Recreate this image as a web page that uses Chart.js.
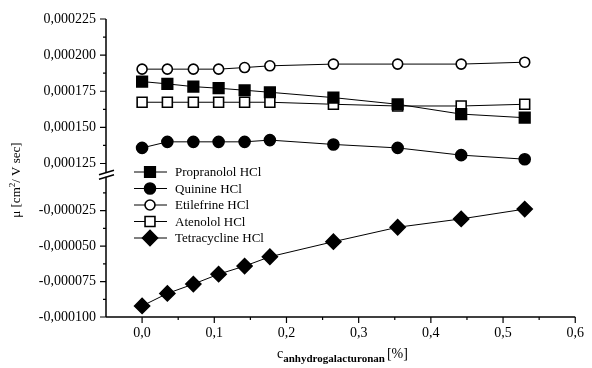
<!DOCTYPE html>
<html>
<head>
<meta charset="utf-8">
<script src="https://cdn.jsdelivr.net/npm/chart.js@4.4.0/dist/chart.umd.min.js"></script>
<style>
  html, body { margin: 0; padding: 0; background: #fff; }
</style>
</head>
<body>
<canvas id="myChart" width="592" height="368"></canvas>
<script>
// concentration of anhydrogalacturonan [%]
const concentrations = [0, 0.035, 0.071, 0.106, 0.142, 0.177, 0.265, 0.354, 0.442, 0.530];

// mobility values [cm2/V sec]
const propranolol = [0.0001817, 0.0001801, 0.0001782, 0.0001771, 0.0001757, 0.0001743, 0.0001706, 0.000166, 0.0001592, 0.0001567];
const quinine = [0.0001358, 0.00014, 0.00014, 0.00014, 0.00014, 0.0001412, 0.0001382, 0.0001358, 0.0001308, 0.000128];
const etilefrine = [0.0001903, 0.0001903, 0.0001903, 0.0001903, 0.0001914, 0.0001926, 0.0001938, 0.0001938, 0.0001938, 0.0001951];
const atenolol = [0.0001674, 0.0001674, 0.0001674, 0.0001674, 0.0001674, 0.0001674, 0.000166, 0.0001648, 0.0001648, 0.000166];
const tetracycline = [-0.0000922, -0.0000834, -0.0000768, -0.0000698, -0.0000641, -0.0000575, -0.0000469, -0.0000367, -0.0000308, -0.0000239];

const seriesNames = ['Propranolol HCl', 'Quinine HCl', 'Etilefrine HCl', 'Atenolol HCl', 'Tetracycline HCl'];

const xTicks = [0, 0.1, 0.2, 0.3, 0.4, 0.5, 0.6];
const yTicksTop = [0.000125, 0.00015, 0.000175, 0.0002, 0.000225];
const yTicksBottom = [-0.0001, -0.000075, -0.00005, -0.000025];

const serif = 'Liberation Serif';

function toPoints(values) {
    return concentrations.map((c, i) => ({ x: c, y: values[i] }));
}

function makeDataset(label, values, style, filled, radius, axis) {
    return {
        label: label,
        data: toPoints(values),
        yAxisID: axis,
        borderColor: '#000',
        borderWidth: 1,
        pointStyle: style,
        pointRadius: radius,
        pointHoverRadius: radius,
        pointBorderWidth: 1.6,
        pointBorderColor: '#000',
        pointBackgroundColor: filled ? '#000' : '#fff',
        tension: 0,
    };
}

const datasets = [
    makeDataset(seriesNames[0], propranolol, 'rect', true, 7.5, 'yTop'),
    makeDataset(seriesNames[1], quinine, 'circle', true, 5.5, 'yTop'),
    makeDataset(seriesNames[2], etilefrine, 'circle', false, 5, 'yTop'),
    makeDataset(seriesNames[3], atenolol, 'rect', false, 7, 'yTop'),
    makeDataset(seriesNames[4], tetracycline, 'rectRot', true, 7.5, 'yBottom'),
];

function formatY(v) {
    return v.toFixed(6).replace('.', ',');
}

// axis lines, break marks, ticks, legend and titles
const axisDecor = {
    id: 'axisDecor',
    afterDraw(chart) {
        const ctx = chart.ctx;
        const x = chart.scales.x;
        const yTop = chart.scales.yTop;
        const yBottom = chart.scales.yBottom;
        const left = chart.chartArea.left;
        const bottom = chart.chartArea.bottom;
        const breakY = yTop.bottom;

        ctx.save();
        ctx.strokeStyle = '#000';
        ctx.lineWidth = 1.5;

        // y axis with break
        ctx.beginPath();
        ctx.moveTo(left, yTop.top);
        ctx.lineTo(left, breakY - 2.5);
        ctx.moveTo(left, breakY + 1.5);
        ctx.lineTo(left, bottom);
        ctx.stroke();

        ctx.beginPath();
        ctx.moveTo(left - 7, breakY - 0.5);
        ctx.lineTo(left + 8, breakY - 5);
        ctx.moveTo(left - 7, breakY + 4);
        ctx.lineTo(left + 8, breakY - 0.5);
        ctx.stroke();

        // x axis
        ctx.beginPath();
        ctx.moveTo(left, bottom);
        ctx.lineTo(chart.chartArea.right, bottom);
        ctx.stroke();

        ctx.lineWidth = 1.2;
        ctx.beginPath();
        yTicksTop.forEach(v => {
            const py = yTop.getPixelForValue(v);
            ctx.moveTo(left - 6, py);
            ctx.lineTo(left, py);
            const pm = yTop.getPixelForValue(v + 0.0000125);
            if (v < 0.000225) {
                ctx.moveTo(left - 3, pm);
                ctx.lineTo(left, pm);
            }
        });
        yTicksBottom.forEach(v => {
            const py = yBottom.getPixelForValue(v);
            ctx.moveTo(left - 6, py);
            ctx.lineTo(left, py);
            const pm = yBottom.getPixelForValue(v + 0.0000125);
            ctx.moveTo(left - 3, pm);
            ctx.lineTo(left, pm);
        });
        xTicks.forEach(v => {
            const px = x.getPixelForValue(v);
            ctx.moveTo(px, bottom);
            ctx.lineTo(px, bottom + 6);
            if (v < 0.6) {
                const pm = x.getPixelForValue(v + 0.05);
                ctx.moveTo(pm, bottom);
                ctx.lineTo(pm, bottom + 3);
            }
        });
        ctx.stroke();

        // legend
        const rowsY = [172, 188.5, 205, 221.5, 238];
        datasets.forEach((ds, i) => {
            const ly = rowsY[i];
            ctx.strokeStyle = '#000';
            ctx.lineWidth = 1;
            ctx.beginPath();
            ctx.moveTo(134, ly);
            ctx.lineTo(167, ly);
            ctx.stroke();
            ctx.fillStyle = ds.pointBackgroundColor;
            ctx.lineWidth = ds.pointBorderWidth;
            Chart.helpers.drawPoint(ctx, { pointStyle: ds.pointStyle, radius: ds.pointRadius, borderWidth: ds.pointBorderWidth, rotation: 0 }, 150, ly);
            ctx.fillStyle = '#000';
            ctx.font = '13px "' + serif + '"';
            ctx.textAlign = 'left';
            ctx.textBaseline = 'middle';
            ctx.fillText(ds.label, 175, ly + 1);
        });

        // x title with subscript
        ctx.fillStyle = '#000';
        ctx.textAlign = 'left';
        ctx.textBaseline = 'alphabetic';
        let tx = 277;
        ctx.font = '14px "' + serif + '"';
        ctx.fillText('c', tx, 358);
        tx += ctx.measureText('c').width;
        ctx.font = 'bold 11px "' + serif + '"';
        ctx.fillText('anhydrogalacturonan', tx, 362);
        tx += ctx.measureText('anhydrogalacturonan').width + 2;
        ctx.font = '14px "' + serif + '"';
        ctx.fillText('[%]', tx, 358);

        // y title, rotated
        ctx.translate(20, 180);
        ctx.rotate(-Math.PI / 2);
        ctx.font = '13px "' + serif + '"';
        const partA = 'μ [cm';
        const partB = '2';
        const partC = '/ V sec]';
        const wA = ctx.measureText(partA).width;
        ctx.font = '9px "' + serif + '"';
        const wB = ctx.measureText(partB).width;
        ctx.font = '13px "' + serif + '"';
        const wC = ctx.measureText(partC).width;
        let ty = -(wA + wB + wC) / 2;
        ctx.fillText(partA, ty, 0);
        ty += wA;
        ctx.font = '9px "' + serif + '"';
        ctx.fillText(partB, ty, -5);
        ty += wB;
        ctx.font = '13px "' + serif + '"';
        ctx.fillText(partC, ty, 0);

        ctx.restore();
    }
};

const ctx = document.getElementById('myChart').getContext('2d');

const myChart = new Chart(ctx, {
    type: 'line',
    data: { datasets: datasets },
    options: {
        responsive: false,
        devicePixelRatio: 1,
        animation: false,
        layout: { padding: { top: 19, right: 13, left: 0, bottom: 0 } },
        plugins: {
            legend: { display: false },
            tooltip: { enabled: false },
        },
        scales: {
            x: {
                type: 'linear',
                min: -0.05,
                max: 0.6,
                grid: { display: false, drawTicks: false },
                border: { display: false },
                afterBuildTicks: scale => { scale.ticks = xTicks.map(v => ({ value: v })); },
                afterFit: scale => { scale.height = 51; },
                ticks: {
                    autoSkip: false,
                    maxRotation: 0,
                    padding: 8,
                    color: '#000',
                    font: { family: serif, size: 14 },
                    callback: v => v.toFixed(1).replace('.', ','),
                },
            },
            // lower part of the broken axis (defined first so it is stacked below)
            yBottom: {
                type: 'linear',
                position: 'left',
                stack: 'mu',
                stackWeight: 141.3,
                min: -0.0001,
                max: 0,
                grid: { display: false, drawTicks: false },
                border: { display: false },
                afterBuildTicks: scale => { scale.ticks = yTicksBottom.map(v => ({ value: v })); },
                afterFit: scale => { scale.width = 106; },
                ticks: {
                    padding: 10,
                    color: '#000',
                    font: { family: serif, size: 14 },
                    callback: v => formatY(v),
                },
            },
            yTop: {
                type: 'linear',
                position: 'left',
                stack: 'mu',
                stackWeight: 155.7,
                min: 0.0001169,
                max: 0.000225,
                grid: { display: false, drawTicks: false },
                border: { display: false },
                afterBuildTicks: scale => { scale.ticks = yTicksTop.map(v => ({ value: v })); },
                afterFit: scale => { scale.width = 106; },
                ticks: {
                    padding: 10,
                    color: '#000',
                    font: { family: serif, size: 14 },
                    callback: v => formatY(v),
                },
            },
        },
    },
    plugins: [axisDecor],
});
</script>
</body>
</html>
